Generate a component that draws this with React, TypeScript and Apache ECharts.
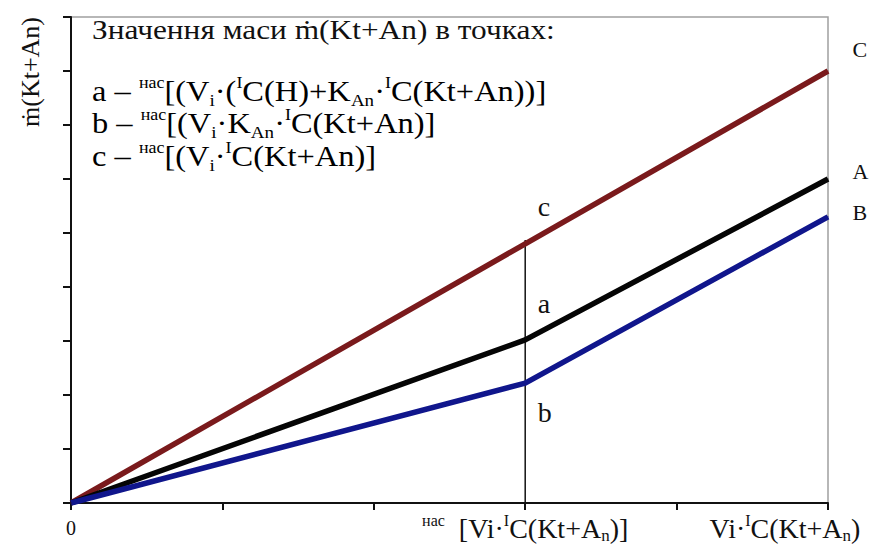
import React, { useEffect, useRef } from "react";
import * as echarts from "echarts";

const xTicks = [0, 1, 2, 3, 4, 5];
const lineC = [[0, 0], [3, 4.8], [5, 8]];
const lineA = [[0, 0], [3, 3.02], [5, 6]];
const lineB = [[0, 0], [3, 2.22], [5, 5.3]];
const verticalLine = [[3, 0], [3, 4.87]];
const pointLabels = { c: "c", a: "a", b: "b" };
const endLabels = { C: "C", A: "A", B: "B" };

const FONT = "Liberation Serif";

export default function App() {
  const ref = useRef<HTMLDivElement>(null);
  useEffect(() => {
    if (!ref.current) return;
    const chart = echarts.init(ref.current, undefined, { renderer: "svg" });
    const m = { fontSize: 29, fontFamily: FONT, color: "#111", lineHeight: 34 };
    const sup = { fontSize: 16, fontFamily: FONT, color: "#111", lineHeight: 22, verticalAlign: "top" };
    const sub = { fontSize: 17, fontFamily: FONT, color: "#111", lineHeight: 16, verticalAlign: "bottom" };
    const rich = { m, sup, sub };

    const mkLine = (name: string, data: number[][], color: string, midLabel: string, midOffset: number[], endLabel: string, endOffset: number[]) => ({
      type: "line",
      name,
      data: data.map((d, i) => {
        const item: any = { value: d };
        if (i === 1) {
          item.label = { show: true, formatter: midLabel, position: "right", distance: 0, offset: midOffset, fontSize: 28, fontFamily: FONT, color: "#111" };
        } else if (i === data.length - 1) {
          item.label = { show: true, formatter: endLabel, position: "right", distance: 0, offset: endOffset, fontSize: 22, fontFamily: FONT, color: "#111" };
        }
        return item;
      }),
      showSymbol: true,
      symbol: "circle",
      symbolSize: 1,
      itemStyle: { color },
      lineStyle: { color, width: 5.5 },
      z: 3,
    });

    chart.setOption({
      animation: false,
      grid: { left: 71, right: 41, top: 17, bottom: 51, show: true, borderColor: "#a0a0a0", borderWidth: 1.5, backgroundColor: "transparent", outerBoundsMode: "none", containLabel: false },
      xAxis: {
        type: "value",
        min: 0,
        max: 5,
        interval: 1,
        axisLine: { show: true, lineStyle: { color: "#111", width: 2 } },
        axisTick: { show: true, length: 7, lineStyle: { color: "#111", width: 2 } },
        splitLine: { show: false },
        axisLabel: {
          margin: 9,
          hideOverlap: false,
          rich: {
            m: { fontSize: 28, fontFamily: FONT, color: "#111", lineHeight: 32 },
            z: { fontSize: 20, fontFamily: FONT, color: "#111", lineHeight: 32 },
            sup: { fontSize: 16, fontFamily: FONT, color: "#111", lineHeight: 22, verticalAlign: "top" },
            sub: { fontSize: 17, fontFamily: FONT, color: "#111", lineHeight: 16, verticalAlign: "bottom" },
            pad: { width: 86, lineHeight: 32 },
          },
          formatter: (v: number) => {
            if (v === xTicks[0]) return "{z|0}";
            if (v === xTicks[3]) return "{sup|нас}{m|  [Vi·}{sup|I}{m|C(Kt+A}{sub|n}{m|)]}";
            if (v === xTicks[5]) return "{m|Vi·}{sup|I}{m|C(Kt+A}{sub|n}{m|)}{pad|}";
            return "";
          },
        },
      },
      yAxis: {
        type: "value",
        min: 0,
        max: 9,
        interval: 1,
        axisLine: { show: true, lineStyle: { color: "#111", width: 2 } },
        axisTick: { show: true, length: 8, lineStyle: { color: "#111", width: 2 } },
        axisLabel: { show: false },
        splitLine: { show: false },
      },
      graphic: [
        { type: "text", x: 30, y: 72, rotation: Math.PI / 2, style: { text: "ṁ(Kt+An)", fontSize: 26, fontFamily: FONT, fill: "#111", align: "center", verticalAlign: "middle" } },
        { type: "text", x: 92, y: 30, scaleX: 1.12, style: { text: "Значення маси ṁ(Kt+An) в точках:", fontSize: 28, fontFamily: FONT, fill: "#111", align: "left", verticalAlign: "middle" } },
        { type: "text", x: 92, y: 92, scaleX: 1.12, style: { text: "{m|a – }{sup|нас}{m|[(V}{sub|i}{m|·(}{sup|I}{m|C(H)+K}{sub|An}{m|·}{sup|I}{m|C(Kt+An))]}", rich, align: "left", verticalAlign: "middle" } },
        { type: "text", x: 92, y: 124, scaleX: 1.12, style: { text: "{m|b – }{sup|нас}{m|[(V}{sub|i}{m|·K}{sub|An}{m|·}{sup|I}{m|C(Kt+An)]}", rich, align: "left", verticalAlign: "middle" } },
        { type: "text", x: 92, y: 157, scaleX: 1.12, style: { text: "{m|c – }{sup|нас}{m|[(V}{sub|i}{m|·}{sup|I}{m|C(Kt+An)]}", rich, align: "left", verticalAlign: "middle" } },
      ],
      series: [
        {
          type: "line",
          name: "vertical",
          data: verticalLine,
          symbol: "none",
          lineStyle: { color: "#111", width: 1.5 },
          z: 2,
        },
        mkLine("C", lineC, "#7a1a1c", pointLabels.c, [12, -37], endLabels.C, [24, -22]),
        mkLine("A", lineA, "#050505", pointLabels.a, [12, -36], endLabels.A, [24, -8]),
        mkLine("B", lineB, "#10168c", pointLabels.b, [12, 29], endLabels.B, [24, -4]),
      ],
    });
    return () => chart.dispose();
  }, []);
  return <div ref={ref} style={{ position: "fixed", left: 0, top: 0, width: 869, height: 554, background: "#fff" }} />;
}
